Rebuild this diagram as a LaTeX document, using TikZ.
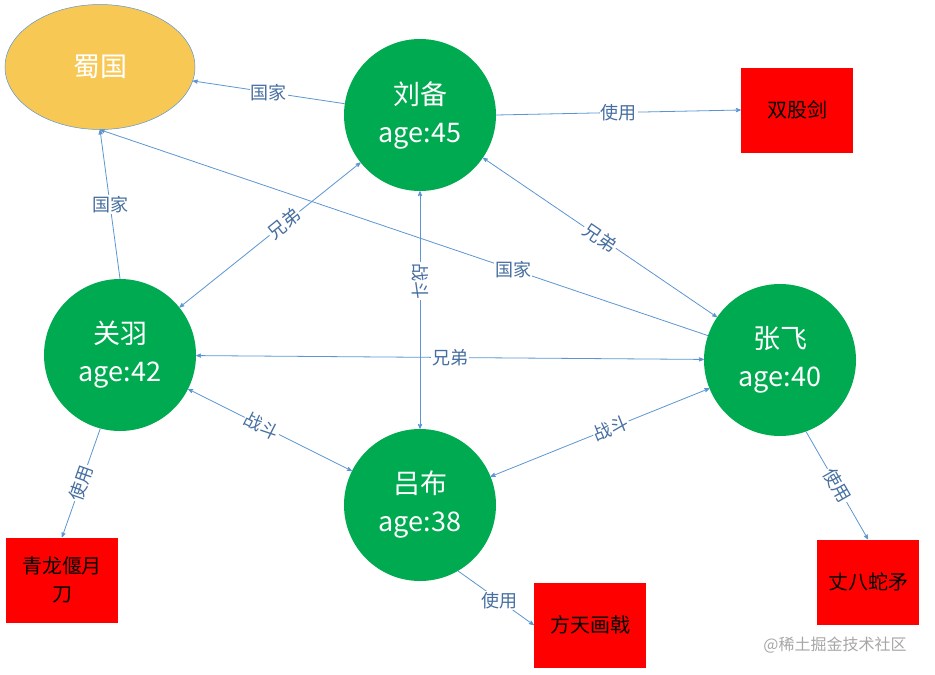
\documentclass[tikz,border=0pt]{standalone}
\usepackage{fontspec}
\setmainfont{Noto Sans CJK SC}
\usetikzlibrary{arrows, shapes.geometric, positioning, calc}
\definecolor{hero}{RGB}{0,170,80}
\definecolor{land}{RGB}{248,200,85}
\definecolor{link}{RGB}{91,150,210}
\definecolor{tag}{RGB}{70,110,160}
\begin{document}
\begin{tikzpicture}[x=1pt,y=-1pt,>=stealth',
  person/.style={circle, fill=hero, text=white, minimum size=152pt, align=center, font=\fontsize{27}{38}\selectfont},
  weapon/.style={rectangle, fill=red, text=black, minimum width=112pt, minimum height=85pt, align=center, font=\fontsize{20}{28}\selectfont},
  rel/.style={draw=link, line width=0.8pt},
  lbl/.style={fill=white, text=tag, inner sep=1pt, font=\fontsize{18}{20}\selectfont}]
  \useasboundingbox (0,0) rectangle (935,675);
  \node[ellipse, fill=land, draw=link, line width=0.5pt, minimum width=190pt, minimum height=125pt, text=white, font=\fontsize{27}{30}\selectfont] (shu) at (100,67) {蜀国};
  \node[person] (liubei) at (420,115) {刘备\\age:45};
  \node[person] (guanyu) at (120,355) {关羽\\age:42};
  \node[person] (zhangfei) at (780,360) {张飞\\age:40};
  \node[person] (lvbu) at (420,505) {吕布\\age:38};
  \node[weapon] (sgj) at (797,110) {双股剑};
  \node[weapon] (qlyyd) at (62,580) {青龙偃月\\刀};
  \node[weapon] (fthj) at (590,625) {方天画戟};
  \node[weapon, minimum width=102pt] (zbsm) at (868,582) {丈八蛇矛};
  \node[text=gray!70, font=\fontsize{16}{18}\selectfont] (mark) at (835,645) {@稀土掘金技术社区};
  % relations
  \draw[rel,->] (liubei) -- node[lbl] {国家} (shu);
  \draw[rel,->] (liubei.east) -- node[lbl] {使用} (sgj.west);
  \draw[rel,<->] (liubei) -- node[lbl, sloped, pos=0.42] {兄弟} (guanyu);
  \draw[rel,<->] (liubei) -- node[lbl, sloped] {兄弟} (zhangfei);
  \draw[rel,<->] (liubei) -- node[lbl, sloped, pos=0.38] {战斗} (lvbu);
  \draw[rel,->] (zhangfei) -- node[lbl, pos=0.32] {国家} (shu.south);
  \draw[rel,->] (guanyu.north) -- node[lbl] {国家} (shu.south);
  \draw[rel,<->] (guanyu) -- node[lbl] {兄弟} (zhangfei);
  \draw[rel,<->] (guanyu) -- node[lbl, sloped, pos=0.45] {战斗} (lvbu);
  \draw[rel,<->] (lvbu) -- node[lbl, sloped, pos=0.55] {战斗} (zhangfei);
  \draw[rel,->] (guanyu.255) -- node[lbl, sloped] {使用} (qlyyd.north);
  \draw[rel,->] (zhangfei.290) -- node[lbl, sloped] {使用} (zbsm.north);
  \draw[rel,->] (lvbu.300) -- node[lbl, pos=0.55] {使用} (fthj.west);
\end{tikzpicture}
\end{document}
